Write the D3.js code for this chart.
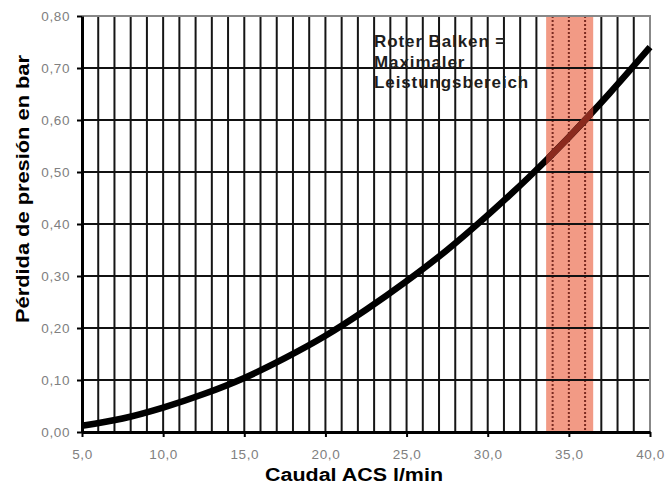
<!DOCTYPE html>
<html>
<head>
<meta charset="UTF-8">
<script src="https://cdn.jsdelivr.net/npm/d3@7"></script>
<style>
  body { margin: 0; background: #fff; }
  text { font-family: "Liberation Sans", Arial, sans-serif; }
</style>
</head>
<body>
<div id="chart"></div>
<script>
// caudal (l/min) and pressure loss (bar)
var caudal = [5, 7.5, 10, 12.5, 15, 17.5, 20, 22.5, 25, 27.5, 30, 32.5, 35, 37.5, 40];
var perdida = [0.012, 0.026, 0.047, 0.073, 0.104, 0.142, 0.185, 0.235, 0.290, 0.350, 0.417, 0.489, 0.567, 0.651, 0.740];
var xTicks = [5, 10, 15, 20, 25, 30, 35, 40];
var yTicks = [0, 0.1, 0.2, 0.3, 0.4, 0.5, 0.6, 0.7, 0.8];
var banda = [33.6, 36.5];
var nota = ["Roter Balken =", "Maximaler", "Leistungsbereich"];

var width = 667, height = 484;
var margin = {top: 16, right: 17, bottom: 52, left: 82};

var svg = d3.select("#chart").append("svg")
  .attr("width", width)
  .attr("height", height);

var x = d3.scaleLinear().domain([5, 40]).range([margin.left, width - margin.right]);
var y = d3.scaleLinear().domain([0, 0.8]).range([height - margin.bottom, margin.top]);

var fmt = function(d, n) { return d.toFixed(n).replace(".", ","); };

// red band
svg.append("rect")
  .attr("x", x(banda[0]))
  .attr("y", y(0.8))
  .attr("width", x(banda[1]) - x(banda[0]))
  .attr("height", y(0) - y(0.8))
  .attr("fill", "#f29a85");

// vertical grid every 1 l/min
var vLines = d3.range(6, 40, 1);
svg.append("g").selectAll("line")
  .data(vLines)
  .join("line")
  .attr("x1", function(d) { return x(d); })
  .attr("x2", function(d) { return x(d); })
  .attr("y1", y(0.8))
  .attr("y2", y(0))
  .attr("stroke", function(d) { return (d > banda[0] && d < banda[1]) ? "#7a2a20" : "#151515"; })
  .attr("stroke-dasharray", function(d) { return (d > banda[0] && d < banda[1]) ? "2,2" : null; })
  .attr("stroke-width", 2);

// horizontal grid
svg.append("g").selectAll("line")
  .data(yTicks.slice(1, -1))
  .join("line")
  .attr("x1", x(5))
  .attr("x2", x(40))
  .attr("y1", function(d) { return y(d); })
  .attr("y2", function(d) { return y(d); })
  .attr("stroke", "#111")
  .attr("stroke-width", 2);

// frame top/right
svg.append("path")
  .attr("d", "M" + x(5) + "," + y(0.8) + "H" + x(40) + "V" + y(0))
  .attr("fill", "none")
  .attr("stroke", "#888")
  .attr("stroke-width", 2);

// curve
var line = d3.line()
  .x(function(d, i) { return x(caudal[i]); })
  .y(function(d) { return y(d); })
  .curve(d3.curveCatmullRom);
svg.append("path")
  .datum(perdida)
  .attr("d", line)
  .attr("fill", "none")
  .attr("stroke", "#000")
  .attr("stroke-width", 6.5);

// curve tint inside band
svg.append("clipPath").attr("id", "bandClip")
  .append("rect")
  .attr("x", x(banda[0]))
  .attr("y", y(0.8))
  .attr("width", x(banda[1]) - x(banda[0]))
  .attr("height", y(0) - y(0.8));
svg.append("path")
  .datum(perdida)
  .attr("d", line)
  .attr("clip-path", "url(#bandClip)")
  .attr("fill", "none")
  .attr("stroke", "#8a2a1e")
  .attr("stroke-width", 6.5);

// axes
var xAxis = svg.append("g")
  .attr("transform", "translate(0," + y(0) + ")")
  .call(d3.axisBottom(x).tickValues(xTicks).tickSize(5).tickSizeOuter(0)
    .tickFormat(function(d) { return fmt(d, 1); }));
xAxis.select(".domain").attr("stroke", "#000").attr("stroke-width", 3);
xAxis.selectAll(".tick line").attr("stroke", "#000").attr("stroke-width", 2);
xAxis.selectAll("text")
  .attr("font-size", "13.5px")
  .attr("letter-spacing", "0.6px")
  .attr("fill", "#808080")
  .attr("dy", "0.71em")
  .attr("y", 17);

var yAxis = svg.append("g")
  .attr("transform", "translate(" + x(5) + ",0)")
  .call(d3.axisLeft(y).tickValues(yTicks).tickSize(5).tickSizeOuter(0)
    .tickFormat(function(d) { return fmt(d, 2); }));
yAxis.select(".domain").attr("stroke", "#000").attr("stroke-width", 3);
yAxis.selectAll(".tick line").attr("stroke", "#000").attr("stroke-width", 2);
yAxis.selectAll("text")
  .attr("font-size", "13.5px")
  .attr("letter-spacing", "0.6px")
  .attr("fill", "#808080")
  .attr("x", -12);

// axis titles
svg.append("text")
  .attr("x", 354)
  .attr("y", 481)
  .attr("text-anchor", "middle")
  .attr("font-size", "18px")
  .attr("font-weight", "bold")
  .attr("textLength", 178)
  .attr("lengthAdjust", "spacingAndGlyphs")
  .text("Caudal ACS l/min");

svg.append("text")
  .attr("transform", "rotate(-90)")
  .attr("x", -189)
  .attr("y", 29)
  .attr("text-anchor", "middle")
  .attr("font-size", "19px")
  .attr("font-weight", "bold")
  .attr("textLength", 268)
  .attr("lengthAdjust", "spacingAndGlyphs")
  .text("Pérdida de presión en bar");

// annotation
svg.append("g").selectAll("text")
  .data(nota)
  .join("text")
  .attr("x", 374)
  .attr("y", function(d, i) { return 47 + i * 20.5; })
  .attr("font-size", "17px")
  .attr("font-weight", "bold")
  .attr("letter-spacing", "0.9px")
  .attr("fill", "#1e1e1e")
  .text(function(d) { return d; });
</script>
</body>
</html>
